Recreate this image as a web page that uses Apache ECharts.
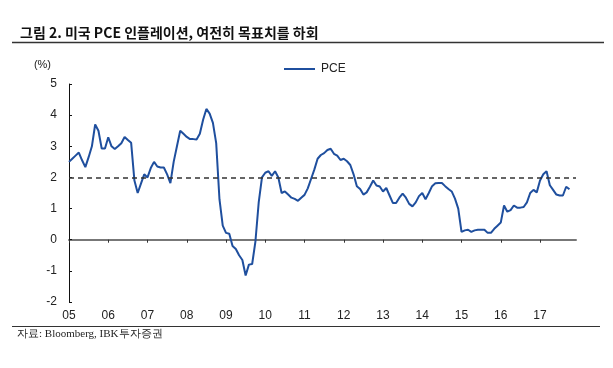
<!DOCTYPE html>
<html>
<head>
<meta charset="utf-8">
<script src="https://cdn.jsdelivr.net/npm/echarts@6/dist/echarts.min.js"></script>
<style>
html,body{margin:0;padding:0;background:#fff;}
#chart{width:613px;height:368px;}
</style>
</head>
<body>
<div id="chart"></div>
<script>
// Year tick labels (January of each year)
var yearLabels = ['05','06','07','08','09','10','11','12','13','14','15','16','17'];

// Monthly PCE YoY (%), Jan 2005 onward
var pce2005 = [2.5, 2.6, 2.7, 2.8, 2.55, 2.33, 2.65, 3.0, 3.7, 3.5, 2.93, 2.93];
var pce2006 = [3.29, 3.0, 2.91, 3.0, 3.1, 3.3, 3.2, 3.11, 1.9, 1.5, 1.8, 2.1];
var pce2007 = [2.0, 2.3, 2.5, 2.35, 2.32, 2.32, 2.1, 1.82, 2.5, 3.0, 3.5, 3.4];
var pce2008 = [3.3, 3.23, 3.23, 3.22, 3.4, 3.85, 4.2, 4.05, 3.75, 3.1, 1.3, 0.45];
var pce2009 = [0.22, 0.19, -0.2, -0.3, -0.5, -0.65, -1.15, -0.8, -0.78, -0.05, 1.2, 2.0];
var pce2010 = [2.15, 2.2, 2.05, 2.2, 2.0, 1.5, 1.55, 1.45, 1.35, 1.31, 1.25, 1.35];
var pce2011 = [1.44, 1.65, 1.95, 2.25, 2.6, 2.72, 2.78, 2.88, 2.92, 2.76, 2.7, 2.56];
var pce2012 = [2.6, 2.52, 2.4, 2.1, 1.72, 1.63, 1.45, 1.52, 1.7, 1.9, 1.74, 1.71];
var pce2013 = [1.55, 1.66, 1.42, 1.18, 1.18, 1.35, 1.48, 1.35, 1.15, 1.07, 1.2, 1.4];
var pce2014 = [1.5, 1.3, 1.5, 1.72, 1.81, 1.82, 1.82, 1.72, 1.63, 1.55, 1.32, 1.0];
var pce2015 = [0.25, 0.3, 0.32, 0.25, 0.3, 0.32, 0.32, 0.32, 0.22, 0.22, 0.35, 0.45];
var pce2016 = [0.55, 1.1, 0.9, 0.95, 1.1, 1.03, 1.03, 1.05, 1.2, 1.5, 1.6, 1.52];
var pce2017 = [1.9, 2.1, 2.2, 1.75, 1.6, 1.45, 1.42, 1.42, 1.7, 1.62];

var targetLevel = 2;

var pceValues = [].concat(pce2005, pce2006, pce2007, pce2008, pce2009, pce2010,
  pce2011, pce2012, pce2013, pce2014, pce2015, pce2016, pce2017);

// Monthly categories, Jan 2005 .. Dec 2017
var categories = [];
yearLabels.forEach(function (y) {
  for (var m = 1; m <= 12; m++) categories.push(y + '-' + (m < 10 ? '0' + m : m));
});

var chart = echarts.init(document.getElementById('chart'));
var yearTick = function (idx) { return idx % 12 === 0; };
var axisFont = 'Liberation Sans, Arial, sans-serif';

chart.setOption({
  animation: false,
  backgroundColor: '#fff',
  title: {
    text: '그림 2. 미국 PCE 인플레이션, 여전히 목표치를 하회',
    left: 15, top: 21,
    textStyle: { fontFamily: 'Noto Sans CJK KR', fontSize: 14, fontWeight: 'bold', color: '#111' }
  },
  legend: {
    data: ['PCE'],
    left: 279, top: 58,
    itemWidth: 31, itemHeight: 2, itemGap: 6,
    icon: 'rect',
    textStyle: { fontFamily: axisFont, fontSize: 12, color: '#222', padding: [0, 0, 0, 1] }
  },
  grid: { left: 69, right: 37, top: 84, bottom: 66 },
  xAxis: [
    {
      type: 'category', data: categories, boundaryGap: false, position: 'bottom',
      axisLine: { show: false, onZero: false },
      axisTick: { show: false },
      axisLabel: {
        interval: yearTick,
        formatter: function (v) { return v.slice(0, 2); },
        fontFamily: axisFont, fontSize: 12, color: '#222', margin: 8
      },
      splitLine: { show: false }
    },
    {
      type: 'category', data: categories, boundaryGap: false,
      axisLine: { show: true, onZero: true, lineStyle: { color: '#777', width: 2 } },
      axisTick: { show: true, inside: true, length: 3, interval: yearTick, lineStyle: { color: '#333', width: 1 } },
      axisLabel: { show: false },
      splitLine: { show: false }
    }
  ],
  yAxis: {
    type: 'value', min: -2, max: 5, interval: 1,
    name: '(%)', nameLocation: 'end', nameGap: 14,
    nameTextStyle: { fontFamily: axisFont, fontSize: 11, color: '#222', align: 'right', padding: [0, 18, 0, 0] },
    axisLine: { show: true, lineStyle: { color: '#111', width: 1 } },
    axisTick: { show: true, inside: true, length: 3, lineStyle: { color: '#111' } },
    axisLabel: { fontFamily: axisFont, fontSize: 12, color: '#222', margin: 12 },
    splitLine: { show: false }
  },
  series: [{
    name: 'PCE', type: 'line', data: pceValues, xAxisIndex: 0,
    showSymbol: false, symbol: 'none',
    lineStyle: { color: '#1f4f9e', width: 2 },
    itemStyle: { color: '#1f4f9e' },
    markLine: {
      silent: true, symbol: 'none', label: { show: false },
      lineStyle: { color: '#333', type: [5, 4], width: 1.5 },
      data: [{ yAxis: targetLevel }]
    }
  }],
  graphic: [
    { type: 'line', shape: { x1: 12, y1: 42.5, x2: 604, y2: 42.5 }, style: { stroke: '#333', lineWidth: 1.5 } },
    { type: 'line', shape: { x1: 12, y1: 326.5, x2: 600, y2: 326.5 }, style: { stroke: '#333', lineWidth: 1.2 } },
    { type: 'text', left: 17, top: 329, style: { text: '자료: Bloomberg, IBK투자증권', font: '11px "Liberation Serif", serif', fill: '#222' } }
  ]
});
</script>
</body>
</html>
